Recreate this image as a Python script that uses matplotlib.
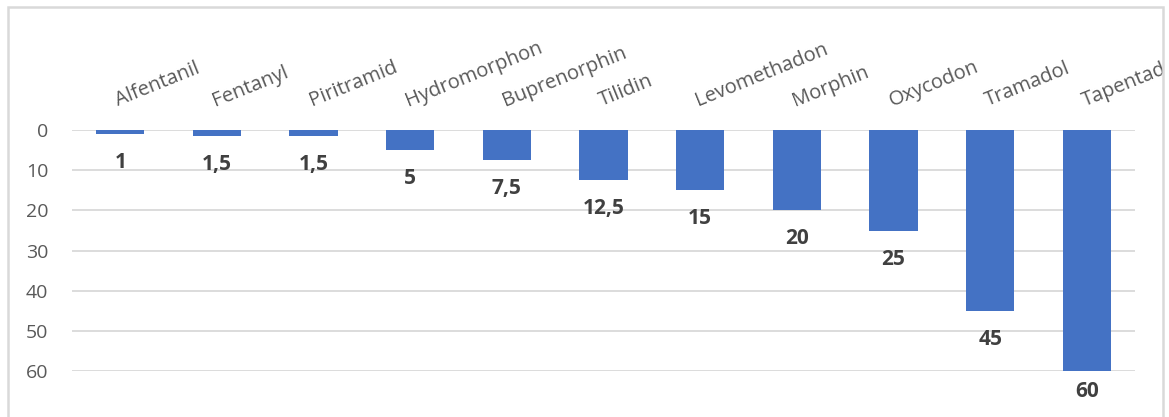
import matplotlib.pyplot as plt
from matplotlib.patches import Rectangle

names = ['Alfentanil', 'Fentanyl', 'Piritramid', 'Hydromorphon', 'Buprenorphin',
         'Tilidin', 'Levomethadon', 'Morphin', 'Oxycodon', 'Tramadol', 'Tapentadol']
values = [1, 1.5, 1.5, 5, 7.5, 12.5, 15, 20, 25, 45, 60]
labels = ['1', '1,5', '1,5', '5', '7,5', '12,5', '15', '20', '25', '45', '60']
yticks = [0, 10, 20, 30, 40, 50, 60]

plt.rcParams['font.family'] = ['Open Sans', 'DejaVu Sans']

fig = plt.figure(figsize=(11.69, 4.17), dpi=100)
ax = fig.add_axes([0.0616, 0.110, 0.9094, 0.578])

x = range(len(names))
ax.bar(x, values, width=0.5, color='#4472C4', zorder=3)
ax.set_xlim(-0.5, len(names) - 0.5)
ax.set_ylim(60, 0)
ax.set_yticks(yticks)
ax.tick_params(axis='y', length=0, labelsize=14, labelcolor='#595959', pad=17)
ax.set_xticks([])
ax.grid(axis='y', color='#d9d9d9', lw=1.3, zorder=0)
for s in ax.spines.values():
    s.set_visible(False)

# frame around the chart
frame = Rectangle((8 / 1169, -0.1), (1163 - 8) / 1169, 1 - 7 / 417 + 0.1,
                  transform=fig.transFigure, fill=False, ec='#d9d9d9', lw=1.8)
fig.add_artist(frame)
clip = Rectangle((8 / 1169, 0), (1163 - 8) / 1169, 1, transform=fig.transFigure,
                 fill=False, lw=0)
fig.add_artist(clip)

ymax = max(values)
for i, (n, v, l) in enumerate(zip(names, values, labels)):
    t = ax.annotate(n, (i, 0), xytext=(-1.5, 17), textcoords='offset points',
                    rotation=22, rotation_mode='anchor', ha='left', va='baseline',
                    fontsize=14.5, color='#595959', annotation_clip=False)
    t.set_clip_path(clip)
    # keep the lowest label inside the chart area
    dy = -15 if v == ymax else -20.5
    ax.annotate(l, (i, v), xytext=(0, dy), textcoords='offset points',
                ha='center', va='center', fontsize=15, fontweight='bold',
                color='#404040', annotation_clip=False)

fig.savefig('out.png')
